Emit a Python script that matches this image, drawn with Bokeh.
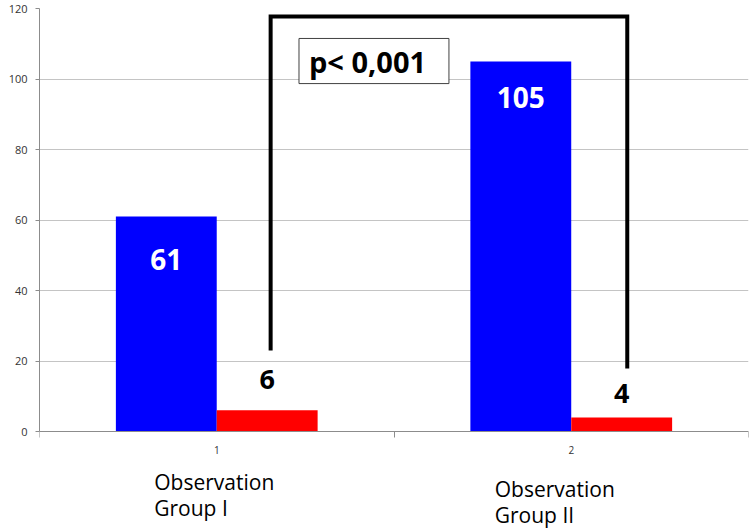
from bokeh.plotting import figure
from bokeh.models import Range1d, FixedTicker, Label, BoxAnnotation
from bokeh.embed import file_html
from bokeh.resources import INLINE

# ---- data ----
groups = [1, 2]
group_names = ["Observation\nGroup I", "Observation\nGroup II"]
blue_values = [61, 105]
red_values = [6, 4]
y_ticks = [0, 20, 40, 60, 80, 100, 120]
p_text = "p< 0,001"

# ---- annotation positions (data units / pixel offsets) ----
bar_offset = 0.1423
bar_width = 0.2845
blue_label_y = [48.8, 94.8]
red_label_y = [15.0, 10.8]
bracket_x = [1.152, 1.152, 2.158, 2.158]
bracket_y = [23.0, 117.7, 117.7, 17.9]
pbox = dict(left=1.232, right=1.655, bottom=98.7, top=111.5)
group_text_dx = [-62.5, -76.5]
group_text_dy = [[-50, -76], [-57, -83]]

FONT = "Open Sans"

p = figure(width=751, height=529, output_backend="svg", toolbar_location=None,
           x_range=Range1d(0.5, 2.5), y_range=Range1d(-27.8, 120),
           min_border_left=39, min_border_right=3, min_border_top=8, min_border_bottom=0)
p.outline_line_color = None
p.background_fill_color = "white"
p.border_fill_color = "white"

yt = FixedTicker(ticks=y_ticks)
p.yaxis.ticker = yt
p.yaxis.bounds = (0, 120)
p.ygrid.ticker = yt
p.xgrid.visible = False
p.ygrid.grid_line_color = "#c4c4c4"
p.ygrid.grid_line_width = 1

ax_col = "#8c8c8c"
p.yaxis.axis_line_color = ax_col
p.yaxis.major_tick_line_color = ax_col
p.yaxis.major_tick_out = 4
p.yaxis.major_tick_in = 0
p.yaxis.minor_tick_line_color = None
p.yaxis.major_label_standoff = 8
p.yaxis.major_label_text_font = FONT
p.yaxis.major_label_text_font_size = "11px"
p.yaxis.major_label_text_color = "#333333"

p.xaxis.fixed_location = 0
p.xaxis.ticker = FixedTicker(ticks=groups, minor_ticks=[0.5, 1.5, 2.5])
p.xaxis.axis_line_color = ax_col
p.xaxis.major_tick_line_color = None
p.xaxis.major_tick_out = 0
p.xaxis.major_tick_in = 0
p.xaxis.minor_tick_line_color = ax_col
p.xaxis.minor_tick_out = 6
p.xaxis.minor_tick_in = 0
p.xaxis.major_label_standoff = 8
p.xaxis.major_label_text_font = FONT
p.xaxis.major_label_text_font_size = "10px"
p.xaxis.major_label_text_color = "#333333"

blue_x = [g - bar_offset for g in groups]
red_x = [g + bar_offset for g in groups]
p.vbar(x=blue_x, top=blue_values, width=bar_width, fill_color="#0000ff", line_color=None)
p.vbar(x=red_x, top=red_values, width=bar_width, fill_color="#ff0000", line_color=None)

# bracket
p.line(bracket_x, bracket_y, line_width=4, line_color="black", line_join="miter")

# p-value box
p.add_layout(BoxAnnotation(left=pbox["left"], right=pbox["right"], bottom=pbox["bottom"], top=pbox["top"],
                           fill_color="white", fill_alpha=1.0, line_color="#404040", line_width=1,
                           line_alpha=1.0))
p.add_layout(Label(x=pbox["left"], x_offset=10, y=(pbox["top"] + pbox["bottom"]) / 2, text=p_text,
                   text_align="left", text_baseline="middle", text_font=FONT,
                   text_font_size="29px", text_font_style="bold", text_color="black"))

# value labels
for x, v, ly in zip(blue_x, blue_values, blue_label_y):
    p.add_layout(Label(x=x, y=ly, text=str(v), text_align="center", text_baseline="middle",
                       text_font=FONT, text_font_size="28px", text_font_style="bold",
                       text_color="white"))
for i, (x, v, ly) in enumerate(zip(red_x, red_values, red_label_y)):
    kw = {}
    if i == 0:
        kw = dict(background_fill_color="white", background_fill_alpha=1.0,
                  padding=dict(left=24, right=24, top=4, bottom=2))
    p.add_layout(Label(x=x, y=ly, text=str(v), text_align="center", text_baseline="middle",
                       text_font=FONT, text_font_size="27px", text_font_style="bold",
                       text_color="black", **kw))

# group names below axis
for g, name, dx, dys in zip(groups, group_names, group_text_dx, group_text_dy):
    for line, dy in zip(name.split("\n"), dys):
        p.add_layout(Label(x=g, y=0, x_offset=dx, y_offset=dy, text=line,
                           text_align="left", text_baseline="alphabetic",
                           text_font=FONT, text_font_size="21px", text_color="black"))

open("out.html", "w").write(file_html(p, INLINE))
